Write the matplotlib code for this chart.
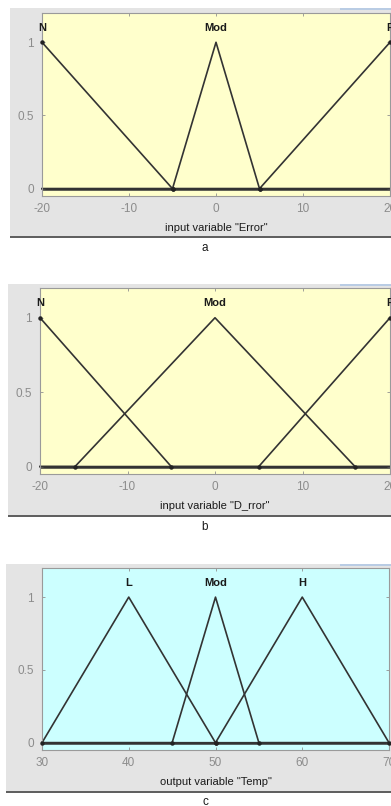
import numpy as np
import matplotlib
matplotlib.use("Agg")
import matplotlib.pyplot as plt
from matplotlib.patches import Rectangle

plt.rcParams["font.family"] = ["Liberation Sans", "DejaVu Sans"]
plt.rcParams["axes.unicode_minus"] = False

# membership functions (triangle corners)
err_range = [-20, 20]
err_names = ["N", "Mod", "P"]
err_x = [[-20, -20, -5], [-5, 0, 5], [5, 20, 20]]

derr_range = [-20, 20]
derr_names = ["N", "Mod", "P"]
derr_x = [[-20, -20, -5], [-16, 0, 16], [5, 20, 20]]

temp_range = [30, 70]
temp_names = ["L", "Mod", "H"]
temp_x = [[30, 40, 50], [45, 50, 55], [50, 60, 70]]

W, H = 391, 806
fig = plt.figure(figsize=(W / 100, H / 100), dpi=100)
fig.patch.set_facecolor("white")

def px_rect(x0, y0, x1, y1):
    # pixel box -> figure fraction [left, bottom, width, height]
    return [x0 / W, 1 - y1 / H, (x1 - x0) / W, (y1 - y0) / H]

def add_box(x0, y0, x1, y1, color):
    fig.patches.append(Rectangle((x0 / W, 1 - y1 / H), (x1 - x0) / W, (y1 - y0) / H,
                                 transform=fig.transFigure, facecolor=color,
                                 edgecolor="none", zorder=-5))

def panel(gray_box, ax_box, rng, names, xs, face, xlabel, letter, letter_y, xticks):
    gx0, gy0, gx1, gy1 = gray_box
    add_box(gx0, gy0, gx1, gy1, "#e4e4e4")
    add_box(gx0, gy1, gx1, gy1 + 2, "#606060")      # shadow line under the panel
    add_box(340, gy0, 391, gy0 + 1.5, "#b9cce4")    # bit of the toolbar, top right

    ax = fig.add_axes(px_rect(*ax_box))
    ax.set_facecolor(face)
    ax.axhline(0, color="#333333", lw=1.8, zorder=1)
    for (a, b, c), name in zip(xs, names):
        xx = [rng[0], a, b, c, rng[1]]
        yy = [0, 0, 1, 0, 0]
        if a == b:
            xx, yy = [a, c, rng[1]], [1, 0, 0]
        elif b == c:
            xx, yy = [rng[0], a, b], [0, 0, 1]
        ax.plot(xx, yy, color="#333333", lw=1.2, clip_on=False, zorder=2)
        ax.plot([a, c], [1 if a == b else 0, 1 if b == c else 0], "o", ms=2.2,
                color="#222222", clip_on=False, zorder=3)
        ax.text(b, 1.1, name, ha="center", va="center", fontsize=8,
                fontweight="bold", color="#1a1a1a", clip_on=False)
    ax.set_xlim(rng)
    ax.set_ylim(-0.05, 1.2)
    ax.set_xticks(xticks)
    ax.set_yticks([0, 0.5, 1])
    ax.set_yticklabels(["0", "0.5", "1"])
    ax.tick_params(direction="in", length=2.5, width=0.6, colors="#909090",
                   labelsize=8.5, labelcolor="#8c8c8c", top=True, right=True)
    ax.tick_params(axis="x", pad=5)
    ax.tick_params(axis="y", pad=6)
    for s in ax.spines.values():
        s.set_color("#9a9a9a")
        s.set_linewidth(0.8)
    ax.set_xlabel(xlabel, fontsize=8, color="#1a1a1a", labelpad=6)
    fig.text(205 / W, 1 - letter_y / H, letter, ha="center", va="center",
             fontsize=8.5, color="#1a1a1a")
    return ax

panel((10, 8, 391, 236), (42, 13, 390, 196), err_range, err_names, err_x,
      "#ffffcc", 'input variable "Error"', "a", 248, [-20, -10, 0, 10, 20])
panel((8, 284, 391, 515), (40, 288, 390, 474), derr_range, derr_names, derr_x,
      "#ffffcc", 'input variable "D_rror"', "b", 527, [-20, -10, 0, 10, 20])
panel((6, 564, 391, 791), (42, 568, 389, 750), temp_range, temp_names, temp_x,
      "#ccffff", 'output variable "Temp"', "c", 802, [30, 40, 50, 60, 70])

fig.savefig("out.png", dpi=100)
